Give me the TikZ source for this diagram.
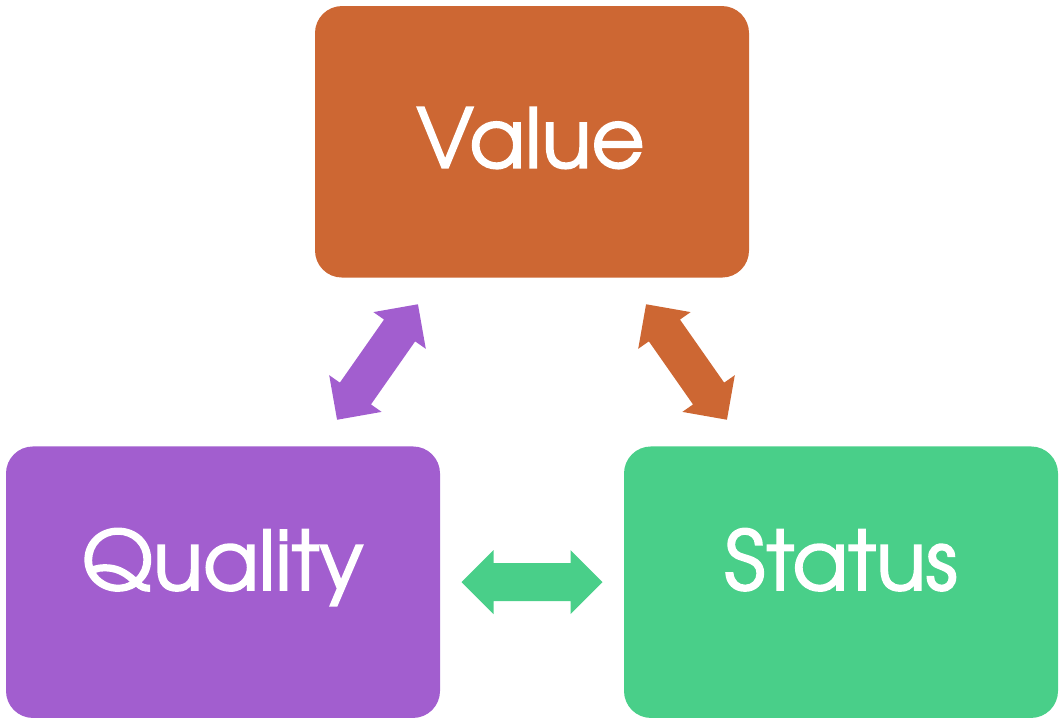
\documentclass[tikz,border=0pt]{standalone}
\usepackage{fontspec}
\setmainfont{texgyreadventor-regular.otf}
\font\lblfont="[texgyreadventor-regular.otf]:embolden=2" at 82pt
\usetikzlibrary{calc}
\definecolor{vorange}{RGB}{205,103,51}
\definecolor{vpurple}{RGB}{162,94,207}
\definecolor{vgreen}{RGB}{73,207,137}
\tikzset{
  box/.style={rectangle, rounded corners=27pt, minimum width=434pt, minimum height=271.5pt, inner sep=0pt, draw=none},
  lbl/.style={text=white, font=\lblfont, anchor=base, inner sep=0pt},
  dblarrow/.pic={
    \fill (-70.5,0) -- (-38.5,32) -- (-38.5,19) -- (38.5,19) -- (38.5,32) -- (70.5,0)
      -- (38.5,-32) -- (38.5,-19) -- (-38.5,-19) -- (-38.5,-32) -- cycle;
  }
}
\begin{document}
\begin{tikzpicture}[x=1pt,y=1pt]
\useasboundingbox (0,0) rectangle (1064,724);
\node[box, fill=vorange] (value) at (532,582.2) {};
\node[box, fill=vpurple] (quality) at (223,141.8) {};
\node[box, fill=vgreen] (status) at (841,141.8) {};
\node[lbl] (tvalue) at (530.5,556.3) {Value};
\node[lbl] (tquality) at (222.5,134) {Quality};
\node[lbl] (tstatus) at (841,134) {Status};
\pic[fill=vpurple, rotate=55] (aqv) at ($(quality)!0.5!(value)$) {dblarrow};
\pic[fill=vorange, rotate=-55] (avs) at ($(value)!0.5!(status)$) {dblarrow};
\pic[fill=vgreen] (aqs) at ($(quality)!0.5!(status)$) {dblarrow};
\end{tikzpicture}
\end{document}
